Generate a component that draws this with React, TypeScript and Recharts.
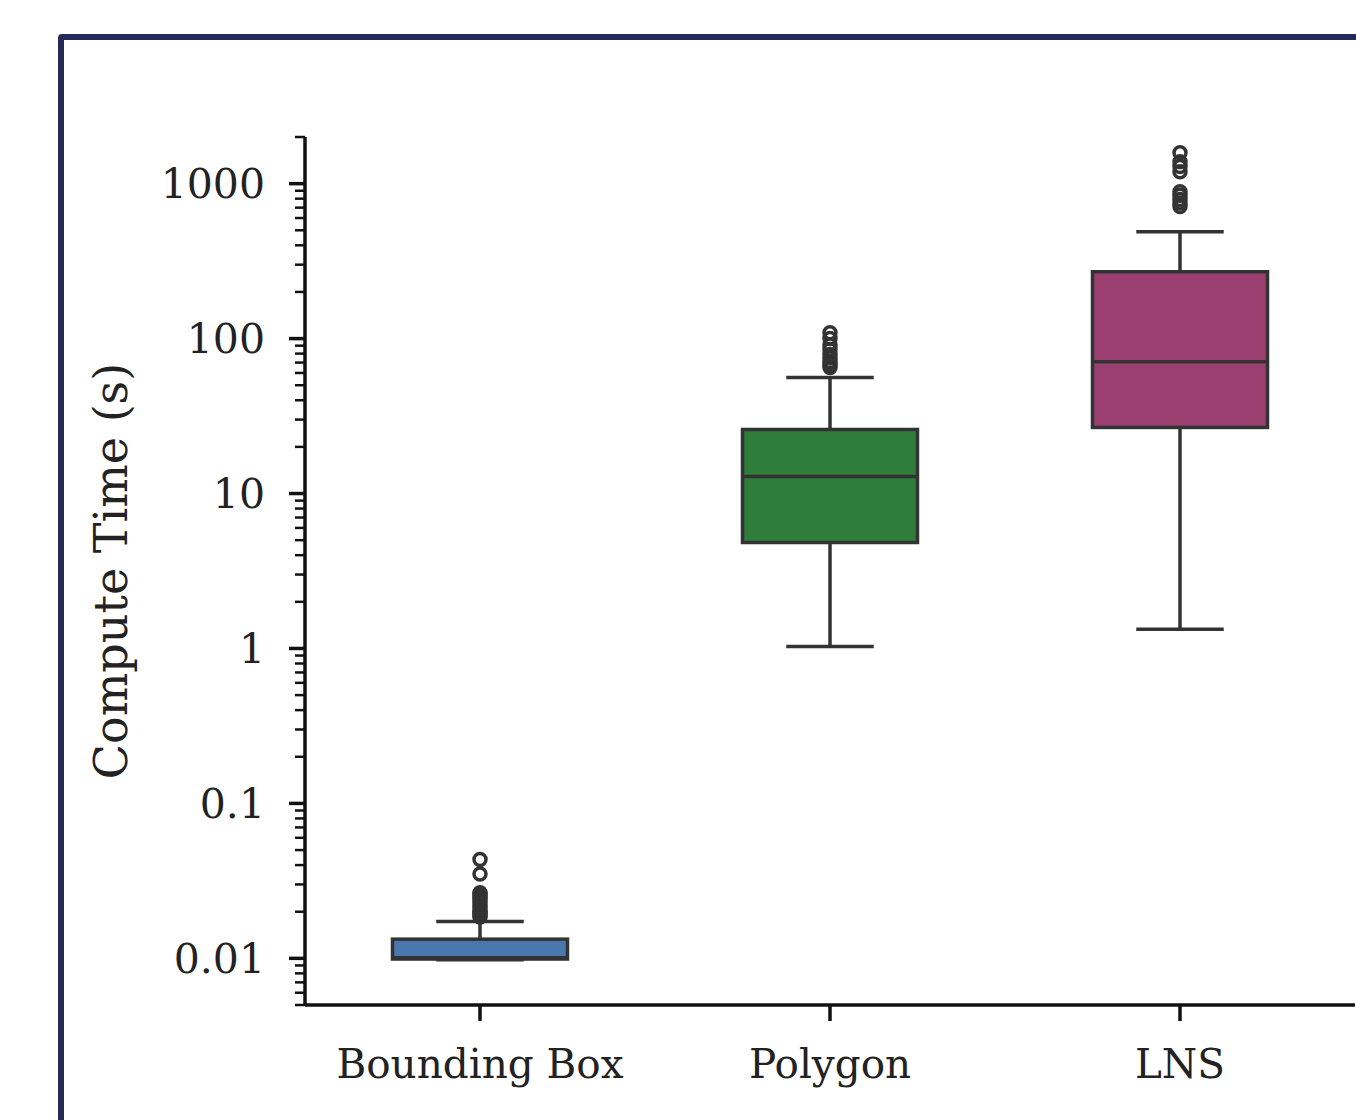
import React from 'react';
import { ComposedChart, Bar, XAxis, YAxis, Label } from 'recharts';

// boxplot stats (seconds, log scale)
const categories = ['Bounding Box', 'Polygon', 'LNS'];
const whiskerLow = [0.0098, 1.03, 1.33];
const q1 = [0.0099, 4.83, 26.7];
const median = [0.0101, 12.9, 71];
const q3 = [0.0133, 25.9, 270];
const whiskerHigh = [0.0173, 56, 490];
const outliers = [
  [0.0185, 0.019, 0.0195, 0.02, 0.021, 0.022, 0.023, 0.024, 0.025, 0.026, 0.0265, 0.035, 0.0435],
  [65, 68, 71, 75, 79, 85, 91, 100, 109],
  [711, 750, 789, 840, 887, 1195, 1290, 1387, 1585],
];
const boxColors = ['#4a78ae', '#2e7d3a', '#9a3f70'];

const majorTicks = [0.01, 0.1, 1, 10, 100, 1000];
const minorSteps = [2, 3, 4, 5, 6, 7, 8, 9];
const extraMinor = [0.005, 0.006, 0.007, 0.008, 0.009];

const yTicks = [
  ...extraMinor,
  ...majorTicks.flatMap(m => [m, ...minorSteps.map(s => +(m * s).toPrecision(3))]),
].filter(v => v <= 2000);

const data = categories.map((name, i) => ({
  name,
  lo: whiskerLow[i],
  q1: q1[i],
  med: median[i],
  q3: q3[i],
  hi: whiskerHigh[i],
  out: outliers[i],
  color: boxColors[i],
}));

const FONT = '"DejaVu Serif", serif';
const EDGE = '#333333';
const SW = 3.5;

const BoxShape = (props: any) => {
  const { x, y, width, height, payload } = props;
  const top = Math.min(y, y + height);
  const h = Math.abs(height);
  const lhi = Math.log10(payload.hi);
  const llo = Math.log10(payload.lo);
  // bar spans [lo, hi] on the log axis; place the rest along that span
  const py = (v: number) => top + (h * (lhi - Math.log10(v))) / (lhi - llo);
  const cx = x + width / 2;
  const capW = width / 2;
  return (
    <g>
      <line x1={cx} x2={cx} y1={py(payload.hi)} y2={py(payload.q3)} stroke={EDGE} strokeWidth={SW} />
      <line x1={cx} x2={cx} y1={py(payload.q1)} y2={py(payload.lo)} stroke={EDGE} strokeWidth={SW} />
      <line x1={cx - capW / 2} x2={cx + capW / 2} y1={py(payload.hi)} y2={py(payload.hi)} stroke={EDGE} strokeWidth={SW} />
      <line x1={cx - capW / 2} x2={cx + capW / 2} y1={py(payload.lo)} y2={py(payload.lo)} stroke={EDGE} strokeWidth={SW} />
      <rect
        x={x}
        y={py(payload.q3)}
        width={width}
        height={py(payload.q1) - py(payload.q3)}
        fill={payload.color}
        stroke={EDGE}
        strokeWidth={SW}
      />
      <line x1={x} x2={x + width} y1={py(payload.med)} y2={py(payload.med)} stroke={EDGE} strokeWidth={SW} />
      {payload.out.map((v: number, k: number) => (
        <circle key={k} cx={cx} cy={py(v)} r={6} fill="none" stroke={EDGE} strokeWidth={SW} />
      ))}
    </g>
  );
};

const YTick = (props: any) => {
  const { x, y, payload } = props;
  const v = payload.value;
  const major = majorTicks.some(m => Math.abs(m - v) / m < 1e-6);
  return (
    <g>
      <line x1={x - (major ? 16 : 10)} x2={x} y1={y} y2={y} stroke="#111" strokeWidth={major ? 3.5 : 2.5} />
      {major && (
        <text x={x - 40} y={y} dy="0.36em" textAnchor="end" fontFamily={FONT} fontSize={41} fill="#222">
          {String(v)}
        </text>
      )}
    </g>
  );
};

const XTick = (props: any) => {
  const { x, y, payload } = props;
  return (
    <g>
      <line x1={x} x2={x} y1={y} y2={y + 16} stroke="#111" strokeWidth={3.5} />
      <text x={x} y={y + 73} textAnchor="middle" fontFamily={FONT} fontSize={40.5} fill="#222">
        {payload.value}
      </text>
    </g>
  );
};

const YLabel = (props: any) => {
  const { x, y, height } = props.viewBox;
  const lx = x + 110;
  const ly = y + height / 2;
  return (
    <text
      x={lx}
      y={ly}
      dy="0.36em"
      transform={`rotate(-90, ${lx}, ${ly})`}
      textAnchor="middle"
      fontFamily={FONT}
      fontSize={46}
      fill="#222"
    >
      Compute Time (s)
    </text>
  );
};

export default function App() {
  return (
    <div style={{ position: 'relative', width: 1356, height: 1120, overflow: 'hidden', background: '#fff' }}>
      <style>{'body{margin:0}'}</style>
      <div
        style={{
          position: 'absolute',
          left: 58,
          top: 34,
          width: 1400,
          height: 1200,
          border: '6px solid #262a56',
          borderRadius: 4,
          boxSizing: 'border-box',
        }}
      />
      <div style={{ position: 'absolute', left: 0, top: 0 }}>
        <ComposedChart
          width={1356}
          height={1120}
          data={data}
          margin={{ top: 137, right: 1, bottom: 15, left: 0 }}
          barCategoryGap="25%"
        >
          <XAxis
            dataKey="name"
            type="category"
            height={100}
            axisLine={{ stroke: '#111', strokeWidth: 3.5 }}
            tickLine={false}
            tickSize={0}
            tickMargin={0}
            tick={<XTick />}
            interval={0}
          />
          <YAxis
            scale="log"
            type="number"
            domain={[0.005, 2000]}
            allowDataOverflow
            ticks={yTicks}
            interval={0}
            width={305}
            axisLine={{ stroke: '#111', strokeWidth: 3.5 }}
            tickLine={false}
            tickSize={0}
            tickMargin={0}
            tick={<YTick />}
          >
            <Label content={<YLabel />} />
          </YAxis>
          <Bar dataKey={(d: any) => [d.lo, d.hi]} shape={<BoxShape />} isAnimationActive={false} />
        </ComposedChart>
      </div>
    </div>
  );
}
